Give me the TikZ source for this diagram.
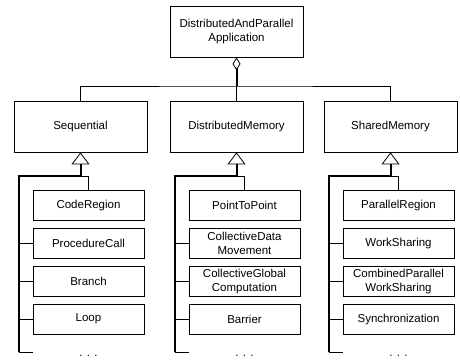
\documentclass[tikz,border=0pt]{standalone}
\usepackage{fontspec}
\setmainfont{Liberation Sans}
\usetikzlibrary{positioning,arrows.meta}

\begin{document}
\begin{tikzpicture}[x=1pt,y=-1pt,font=\fontsize{11.5}{13.5}\selectfont]
\tikzstyle{parent} = [rectangle, minimum width=133pt, minimum height=51pt, align=center, draw=black, line width=0.8pt]
\tikzstyle{child} = [rectangle, minimum width=111pt, minimum height=30pt, inner sep=1pt, align=center, draw=black, line width=0.8pt]
\tikzstyle{link} = [line width=0.8pt]
\tikzstyle{bus} = [line width=2pt]
\tikzstyle{aggr} = [{Diamond[open,length=13pt,width=8pt,line width=0.8pt]}-]
\tikzstyle{inherit} = [-{Triangle[open,length=12pt,width=18pt,line width=0.8pt]}]
\tikzstyle{more} = [anchor=base, inner sep=0pt]
\useasboundingbox (0,0) rectangle (460,359);

\node (app) [parent] at (236.5,31.5) {DistributedAndParallel\\Application};
\node (seq) [parent] at (80.5,126.5) {Sequential};
\node (dm) [parent] at (236.5,126.5) {DistributedMemory};
\node (sm) [parent] at (390.5,126.5) {SharedMemory};

% sequential column
\node (cr) [child, below=38pt of seq, xshift=8pt] {CodeRegion};
\node (pc) [child, below=7pt of cr] {ProcedureCall};
\node (br) [child, below=7pt of pc] {Branch};
\node (lp) [child, below=7pt of br] {Loop};
% distributed memory column
\node (ptp) [child, below=38pt of dm, xshift=8pt] {PointToPoint};
\node (cdm) [child, below=7pt of ptp] {CollectiveData\\Movement};
\node (cgc) [child, below=7pt of cdm] {CollectiveGlobal\\Computation};
\node (bar) [child, below=7pt of cgc] {Barrier};
% shared memory column
\node (pr) [child, below=38pt of sm, xshift=8pt] {ParallelRegion};
\node (ws) [child, below=7pt of pr] {WorkSharing};
\node (cpws) [child, below=7pt of ws] {CombinedParallel\\WorkSharing};
\node (sync) [child, below=7pt of cpws] {Synchronization};

% aggregation
\coordinate (top) at (236.5,86);
\draw [bus, aggr] (app.south) -- (top);
\draw [link] (seq.north) |- (top) -| (sm.north);
\draw [link] (top) -- (dm.north);

% generalizations
\coordinate (seqj) at (80.5,176);
\coordinate (seqe) at (18.5,352);
\draw [bus, inherit] (seqe) |- (seqj) -- (seq.south);
\draw [link] (seqj) -| (cr.north);
\draw [link] (pc.west) -- (pc.west -| seqe);
\draw [link] (br.west) -- (br.west -| seqe);
\draw [link] (lp.west) -- (lp.west -| seqe);
\draw [link] (seqe) -- (seqe -| cr.west);

\coordinate (dmj) at (236.5,176);
\coordinate (dme) at (174.5,352);
\draw [bus, inherit] (dme) |- (dmj) -- (dm.south);
\draw [link] (dmj) -| (ptp.north);
\draw [link] (cdm.west) -- (cdm.west -| dme);
\draw [link] (cgc.west) -- (cgc.west -| dme);
\draw [link] (bar.west) -- (bar.west -| dme);
\draw [link] (dme) -- (dme -| ptp.west);

\coordinate (smj) at (390.5,176);
\coordinate (sme) at (328.5,352);
\draw [bus, inherit] (sme) |- (smj) -- (sm.south);
\draw [link] (smj) -| (pr.north);
\draw [link] (ws.west) -- (ws.west -| sme);
\draw [link] (cpws.west) -- (cpws.west -| sme);
\draw [link] (sync.west) -- (sync.west -| sme);
\draw [link] (sme) -- (sme -| pr.west);

\node (seqmore) [more] at (88.5,356) {. . .};
\node (dmmore) [more] at (244.5,356) {. . .};
\node (smmore) [more] at (398.5,356) {. . .};
\end{tikzpicture}
\end{document}
